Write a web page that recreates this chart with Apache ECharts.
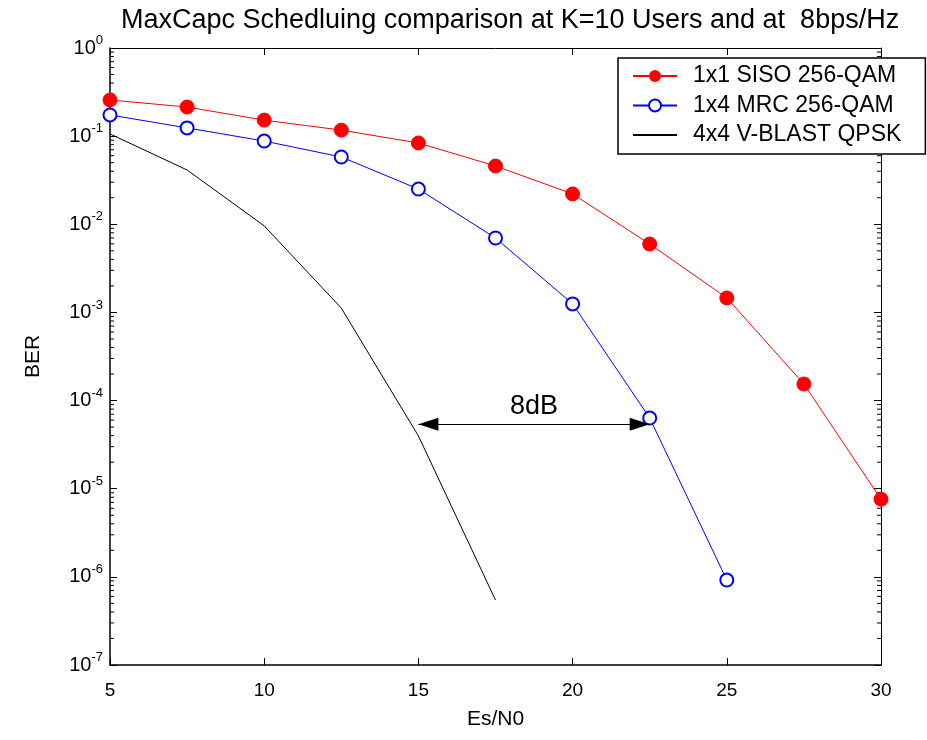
<!DOCTYPE html>
<html><head><meta charset="utf-8">
<script src="https://cdn.jsdelivr.net/npm/echarts@6/dist/echarts.min.js"></script>
<style>html,body{margin:0;padding:0;background:#fff}#c{width:927px;height:740px}</style>
</head><body><div id="c"></div>
<script>
var snr = [5, 7.5, 10, 12.5, 15, 17.5, 20, 22.5, 25, 27.5, 30];
var sisoBer = [0.257, 0.214, 0.152, 0.117, 0.0836, 0.0458, 0.0221, 0.00597, 0.00146, 1.54e-4, 7.6e-6];
var mrcBer = [0.174, 0.124, 0.088, 0.058, 0.0251, 0.00699, 0.00125, 6.34e-5, 9.2e-7];
var vblastBer = [0.106, 0.0413, 0.0096, 0.00112, 3.97e-5, 5.46e-7];
var seriesNames = ['1x1 SISO 256-QAM', '1x4 MRC 256-QAM', '4x4 V-BLAST QPSK'];
var arrowFrom = [15, 5.4e-5];
var arrowTo = [22.5, 5.4e-5];
var arrowLabel = '8dB';
var xTicks = [5, 10, 15, 20, 25, 30];
var yMinExp = -7, yMaxExp = 0;

function pairs(xs, ys) { return ys.map(function (y, i) { return [xs[i], y]; }); }
var FONT = 'Liberation Sans, Arial, sans-serif';
var ARROW_HEAD = 'path://M0,0L0,0.01M0,20L6,40L-6,40Z';

var chart = echarts.init(document.getElementById('c'));
var option = {
  backgroundColor: '#fff',
  animation: false,
  title: {
    text: 'MaxCapc Schedluing comparison at K=10 Users and at  8bps/Hz',
    left: 116, top: 2,
    textStyle: { fontFamily: FONT, fontSize: 27, fontWeight: 'normal', color: '#000' }
  },
  grid: { left: 110, right: 46, top: 48, bottom: 75 },
  legend: {
    data: [seriesNames[0], seriesNames[1], { name: seriesNames[2], itemStyle: { opacity: 0 } }],
    orient: 'vertical',
    left: 618, top: 58,
    padding: [6, 24, 7, 14],
    itemGap: 5.5,
    itemWidth: 44, itemHeight: 15,
    borderColor: '#000', borderWidth: 1.5,
    backgroundColor: '#fff',
    textStyle: { fontFamily: FONT, fontSize: 23, color: '#000', lineHeight: 24, padding: [0, 0, 0, 11] }
  },
  xAxis: [{
    type: 'value', min: 5, max: 30, interval: 5,
    name: 'Es/N0', nameLocation: 'middle', nameGap: 44,
    nameTextStyle: { fontFamily: FONT, fontSize: 21, color: '#000' },
    axisLine: { lineStyle: { color: '#000', width: 1.5 } },
    axisTick: { inside: true, length: 7, lineStyle: { color: '#000' } },
    axisLabel: { fontFamily: FONT, fontSize: 19, color: '#000', margin: 16 },
    splitLine: { show: false }
  }, {
    type: 'value', min: 5, max: 30, interval: 5, position: 'top',
    axisLine: { lineStyle: { color: '#000', width: 1 } },
    axisTick: { inside: true, length: 7, lineStyle: { color: '#000' } },
    axisLabel: { show: false }, splitLine: { show: false }
  }],
  yAxis: [{
    type: 'log', logBase: 10, min: Math.pow(10, yMinExp), max: Math.pow(10, yMaxExp),
    name: 'BER', nameLocation: 'middle', nameGap: 66, nameRotate: 90,
    nameTextStyle: { fontFamily: FONT, fontSize: 21, color: '#000' },
    axisLine: { lineStyle: { color: '#000', width: 1.5 } },
    axisTick: { inside: true, length: 7, lineStyle: { color: '#000' } },
    axisLabel: {
      margin: 7,
      formatter: function (v) {
        var e = Math.round(Math.log10(v));
        return '{b|10}{s|' + e + '}';
      },
      rich: {
        b: { fontFamily: FONT, fontSize: 20, color: '#000' },
        s: { fontFamily: FONT, fontSize: 13, color: '#000', verticalAlign: 'bottom', padding: [0, 0, 15, 0] }
      }
    },
    splitLine: { show: false }
  }, {
    type: 'log', logBase: 10, min: Math.pow(10, yMinExp), max: Math.pow(10, yMaxExp), position: 'right',
    axisLine: { lineStyle: { color: '#000', width: 1 } },
    axisTick: { inside: true, length: 7, lineStyle: { color: '#000' } },
    axisLabel: { show: false }, splitLine: { show: false }
  }],
  series: [{
    name: seriesNames[0], type: 'line', data: pairs(snr, sisoBer),
    symbol: 'circle', symbolSize: 14, showAllSymbol: true,
    lineStyle: { color: '#ff0000', width: 1 },
    itemStyle: { color: '#ff0000', borderColor: '#ff0000' },
    z: 5
  }, {
    name: seriesNames[1], type: 'line', data: pairs(snr, mrcBer),
    symbol: 'emptyCircle', symbolSize: 13, showAllSymbol: true,
    lineStyle: { color: '#0000ff', width: 1 },
    itemStyle: { color: '#0000ff', borderColor: '#0000ff', borderWidth: 1 },
    z: 4
  }, {
    name: seriesNames[2], type: 'line', data: pairs(snr, vblastBer),
    symbol: 'none', showSymbol: false,
    lineStyle: { color: '#000000', width: 1 },
    itemStyle: { color: '#000000' },
    markLine: {
      silent: true,
      symbol: [ARROW_HEAD, ARROW_HEAD],
      symbolSize: [13, 40],
      lineStyle: { color: '#000', width: 1, type: 'solid' },
      label: {
        show: true, position: 'middle', formatter: arrowLabel,
        fontFamily: FONT, fontSize: 27, color: '#000', distance: 4
      },
      data: [[{ coord: arrowFrom }, { coord: arrowTo }]]
    },
    z: 3
  }, {
    type: 'custom', name: 'minor', silent: true, data: [[0]],
    renderItem: function (params, api) {
      var children = [];
      for (var e = yMinExp; e < yMaxExp; e++) {
        for (var k = 2; k <= 9; k++) {
          var v = k * Math.pow(10, e);
          var pl = api.coord([xTicks[0], v]);
          var pr = api.coord([xTicks[xTicks.length - 1], v]);
          children.push({ type: 'line', shape: { x1: pl[0], y1: pl[1], x2: pl[0] + 4, y2: pl[1] }, style: { stroke: '#000', lineWidth: 1 } });
          children.push({ type: 'line', shape: { x1: pr[0], y1: pr[1], x2: pr[0] - 4, y2: pr[1] }, style: { stroke: '#000', lineWidth: 1 } });
        }
      }
      return { type: 'group', children: children };
    },
    z: 2
  }]
};
chart.setOption(option);
</script></body></html>
